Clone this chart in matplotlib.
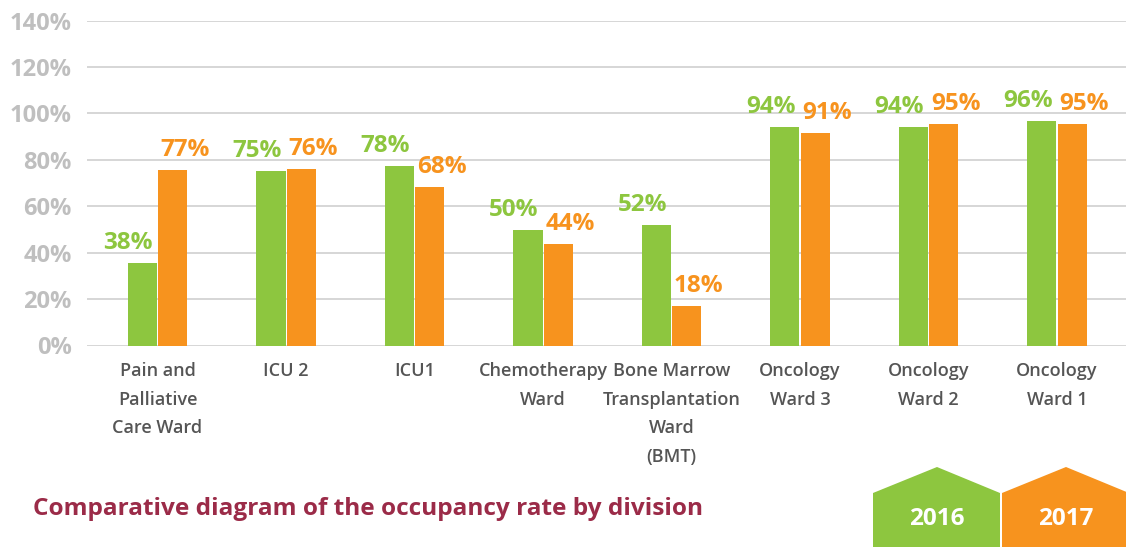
import matplotlib.pyplot as plt
from matplotlib.patches import Polygon

# bar heights (%), and the printed labels
divisions = ['Pain and\nPalliative\nCare Ward', 'ICU 2', 'ICU1', 'Chemotherapy\nWard',
             'Bone Marrow\nTransplantation\nWard\n(BMT)', 'Oncology\nWard 3',
             'Oncology\nWard 2', 'Oncology\nWard 1']
rate_2016 = [35.6, 75.1, 77.2, 49.9, 52.1, 94.1, 94.1, 96.7]
rate_2017 = [75.5, 75.9, 68.1, 43.9, 17.0, 91.5, 95.4, 95.4]
labels_2016 = ['38%', '75%', '78%', '50%', '52%', '94%', '94%', '96%']
labels_2017 = ['77%', '76%', '68%', '44%', '18%', '91%', '95%', '95%']
yticks = [0, 20, 40, 60, 80, 100, 120, 140]
years = ['2016', '2017']

green = '#8DC63F'
orange = '#F7931E'
W, H = 1126, 547

fig = plt.figure(figsize=(W / 100, H / 100), dpi=100)
ax = fig.add_axes([87 / W, 1 - 345.5 / H, (W - 87) / W, 325 / H])

x = list(range(len(divisions)))
bw = 0.226
ax.bar([i - 0.117 for i in x], rate_2016, width=bw, color=green, zorder=3)
ax.bar([i + 0.117 for i in x], rate_2017, width=bw, color=orange, zorder=3)

for i in x:
    ax.annotate(labels_2016[i], xy=(i - 0.004, rate_2016[i]), xytext=(-4, 14),
                textcoords='offset pixels', ha='right', va='baseline',
                color=green, fontsize=17.5, fontweight='bold', family='Open Sans')
    ax.annotate(labels_2017[i], xy=(i + 0.004, rate_2017[i]), xytext=(2, 14),
                textcoords='offset pixels', ha='left', va='baseline',
                color=orange, fontsize=17.5, fontweight='bold', family='Open Sans')

ax.set_xlim(-0.549, 7.537)
ax.set_ylim(0, 140)
ax.set_yticks(yticks)
ax.set_yticklabels([f'{t}%' for t in yticks], fontsize=17, fontweight='bold',
                   color='#BFBFBF', family='Open Sans')
ax.set_xticks(x)
ax.set_xticklabels(divisions, fontsize=13, fontweight='semibold', color='#555555',
                   family='Open Sans', linespacing=1.75)
ax.tick_params(axis='y', length=0, pad=11)
ax.tick_params(axis='x', length=0, pad=12)
ax.grid(axis='y', color='#CFCFCF', linewidth=1.2, zorder=0)
ax.set_axisbelow(True)
for s in ax.spines.values():
    s.set_visible(False)


def fx(px):
    return px / W


def fy(py):
    return 1 - py / H


# title at bottom left
fig.text(fx(33), fy(509), 'Comparative diagram of the occupancy rate by division',
         color='#9B2B48', fontsize=17.6, fontweight='bold', family='Open Sans',
         va='center', ha='left')

# house-shaped year tags
for left, col, yr in [(873, green, years[0]), (1002, orange, years[1])]:
    pts = [(left, 547), (left, 493), (left + 64, 467), (left + 127, 493), (left + 127, 547)]
    fig.add_artist(Polygon([(fx(a), fy(b)) for a, b in pts], closed=True,
                           facecolor=col, edgecolor='none', transform=fig.transFigure))
    fig.text(fx(left + 64), fy(519), yr, color='white', fontsize=17.5, fontweight='bold',
             family='Open Sans', ha='center', va='center')

fig.savefig('out.png', dpi=100)
